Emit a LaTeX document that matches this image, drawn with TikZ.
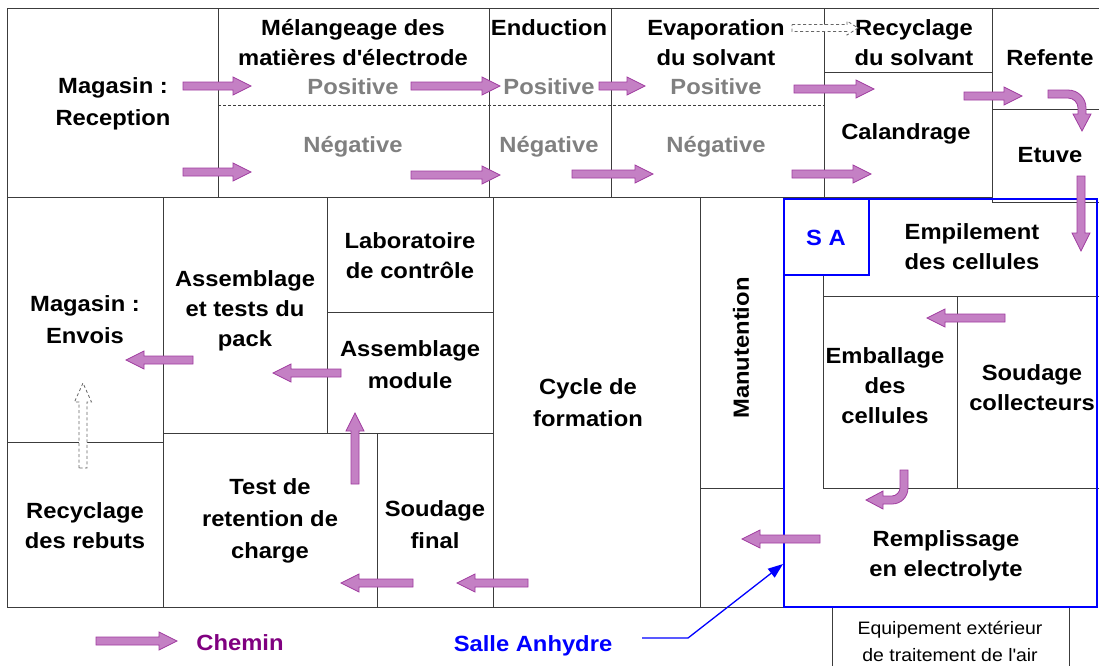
\documentclass[tikz,border=0pt]{standalone}
\usepackage{fontspec}
\setmainfont{Liberation Sans}[FakeStretch=1.08]
\usetikzlibrary{calc,arrows.meta}
\definecolor{chemfill}{RGB}{196,128,196}
\definecolor{chemline}{RGB}{160,60,160}
\definecolor{wallc}{RGB}{60,60,60}
\definecolor{grayt}{RGB}{128,128,128}
\definecolor{purplet}{RGB}{128,0,128}
\definecolor{anhyd}{RGB}{0,0,255}
\newcommand\blockarr[6]{%
  \path (#2) coordinate (bA) (#3) coordinate (bT);
  \path ($(bT)!#6!(bA)$) coordinate (bH);
  \filldraw[#1] ($(bA)!#4!90:(bT)$) -- ($(bH)!#4!90:(bT)$) -- ($(bH)!#5!90:(bT)$) -- (bT)
     -- ($(bH)!#5!-90:(bT)$) -- ($(bH)!#4!-90:(bT)$) -- ($(bA)!#4!-90:(bT)$) -- cycle;}
\newcommand\chemarr[2]{\blockarr{chem}{#1}{#2}{4pt}{9pt}{18pt}}
\tikzset{
  chem/.style={fill=chemfill, draw=chemline, line width=0.8pt, line join=miter},
  hollow/.style={fill=white, draw=black!60, dash pattern=on 3pt off 2.5pt, line width=0.8pt},
  wall/.style={draw=wallc, line width=0.9pt},
  salle/.style={draw=anhyd, line width=2.8pt},
  lbl/.style={font=\fontsize{22}{30}\selectfont\bfseries, align=center, inner sep=0pt},
  glbl/.style={lbl, text=grayt},
  small/.style={font=\fontsize{18}{27}\selectfont, align=center, inner sep=0pt}
}
\begin{document}
\begin{tikzpicture}[x=1pt,y=-1pt]
\useasboundingbox[fill=white] (0,0) rectangle (1099,665);
% ---- walls: top row
\draw[wall] (7,8) rectangle (218,197);
\draw[wall] (218,8) rectangle (489,197);
\draw[wall] (489,8) rectangle (611,197);
\draw[wall] (611,8) rectangle (824,197);
\draw[wall] (824,8) rectangle (992,72);
\draw[wall] (824,72) rectangle (992,197);
\draw[wall] (992,8) rectangle (1099,109);
\draw[wall] (992,109) rectangle (1099,202);
\draw[wall, dash pattern=on 3pt off 2pt] (218,105) -- (824,105);
% ---- walls: middle / bottom
\draw[wall] (7,197) rectangle (163,442);
\draw[wall] (7,442) rectangle (163,607);
\draw[wall] (163,197) rectangle (327,433);
\draw[wall] (327,197) rectangle (493,312);
\draw[wall] (327,312) rectangle (493,433);
\draw[wall] (163,433) rectangle (377,607);
\draw[wall] (377,433) rectangle (493,607);
\draw[wall] (493,197) rectangle (700,607);
\draw[wall] (700,197) rectangle (784,488);
\draw[wall] (700,607) -- (784,607);
\draw[wall] (823,275) -- (823,488) -- (1099,488);
\draw[wall] (823,296) -- (1099,296);
\draw[wall] (957,296) -- (957,488);
\draw[wall] (832,670) -- (832,607) -- (1069,607) -- (1069,670);
% ---- salle anhydre
\draw[salle] (784,199) rectangle (1097,607);
\draw[salle] (784,199) rectangle (869,275);
% ---- labels
\node[lbl, font=\fontsize{22}{32}\selectfont\bfseries] (magR) at (113,104) {Magasin :\\Reception};
\node[lbl] (mel) at (353,43) {Mélangeage des\\matières d\textquotesingle électrode};
\node[glbl] (pos1) at (353,87) {Positive};
\node[glbl] (neg1) at (353,147) {Négative};
\node[lbl] (end) at (549,28) {Enduction};
\node[glbl] (pos2) at (549,87) {Positive};
\node[glbl] (neg2) at (549,147) {Négative};
\node[lbl] (evap) at (716,43) {Evaporation\\du solvant};
\node[glbl] (pos3) at (716,87) {Positive};
\node[glbl] (neg3) at (716,147) {Négative};
\node[lbl] (recy) at (914,43) {Recyclage\\du solvant};
\node[lbl] (refente) at (1050,58) {Refente};
\node[lbl] (cal) at (906,134) {Calandrage};
\node[lbl] (etuve) at (1050,155) {Etuve};
\node[lbl] (empil) at (972,247) {Empilement\\des cellules};
\node[lbl, text=anhyd] (sa) at (826,238) {S A};
\node[lbl] (lab) at (410,256) {Laboratoire\\de contrôle};
\node[lbl] (pack) at (245,311) {Assemblage\\et tests du\\pack};
\node[lbl, font=\fontsize{22}{32}\selectfont\bfseries] (envois) at (85,320) {Magasin :\\Envois};
\node[lbl, font=\fontsize{22}{32}\selectfont\bfseries] (module) at (410,365) {Assemblage\\module};
\node[lbl, font=\fontsize{22}{32}\selectfont\bfseries] (cycle) at (588,403) {Cycle de\\formation};
\node[lbl, rotate=90] (manut) at (741,348) {Manutention};
\node[lbl] (emball) at (885,386) {Emballage\\des\\cellules};
\node[lbl] (soudc) at (1032,388) {Soudage\\collecteurs};
\node[lbl, font=\fontsize{22}{32}\selectfont\bfseries] (test) at (270,521) {Test de\\retention de\\charge};
\node[lbl] (rebuts) at (85,526) {Recyclage\\des rebuts};
\node[lbl, font=\fontsize{22}{32}\selectfont\bfseries] (soudf) at (435,525) {Soudage\\final};
\node[lbl] (rempl) at (946,556) {Remplissage\\en electrolyte};
\node[small] (equip) at (950,641) {Equipement extérieur\\de traitement de l\textquotesingle air};
\node[lbl, text=purplet] (chemin) at (240,643) {Chemin};
\node[lbl, text=anhyd] (sallelbl) at (533,646) {Salle Anhydre};
% ---- pointer to salle anhydre
\coordinate (saA) at (642,638);
\coordinate (saB) at (688,638);
\coordinate (saTip) at (783,564);
\draw[anhyd, line width=1.3pt, -{Triangle[length=15pt,width=11pt]}] (saA) -- (saB) -- (saTip);
% ---- chemin arrows
\chemarr{183,86}{251,86}
\chemarr{183,172}{251,172}
\chemarr{411,86}{500,86}
\chemarr{411,175}{500,175}
\chemarr{599,86}{645,86}
\chemarr{572,174}{653,174}
\chemarr{794,89}{874,89}
\chemarr{792,174}{871,174}
\chemarr{964,96}{1022,96}
\chemarr{1081,176}{1081,251}
\chemarr{1005,318}{927,318}
\chemarr{820,539}{742,539}
\chemarr{528,583}{457,583}
\chemarr{413,583}{341,583}
\chemarr{355,484}{355,413}
\chemarr{341,373}{273,373}
\chemarr{193,360}{126,360}
\chemarr{96,641}{177,641}
% curved: Refente -> Etuve
\filldraw[chem] (1048,90) -- (1068,90) .. controls (1078,90) and (1086,98) .. (1086,108)
  -- (1086,114) -- (1091,114) -- (1082,131) -- (1073,114) -- (1078,114) -- (1078,108)
  .. controls (1078,102.5) and (1073.5,98) .. (1068,98) -- (1048,98) -- cycle;
% curved: Emballage -> Remplissage
\filldraw[chem] (900,470) -- (908,470) -- (908,488) .. controls (908,497) and (901,504) .. (892,504)
  -- (883,504) -- (883,509) -- (866,500) -- (883,491) -- (883,496) -- (892,496)
  .. controls (896.4,496) and (900,491.6) .. (900,488) -- cycle;
% dashed hollow arrows
\blockarr{hollow}{792,28}{858,28}{3.5pt}{7pt}{11pt}
\blockarr{hollow}{83,468}{83,383}{4pt}{8.5pt}{19pt}
\end{tikzpicture}
\end{document}
